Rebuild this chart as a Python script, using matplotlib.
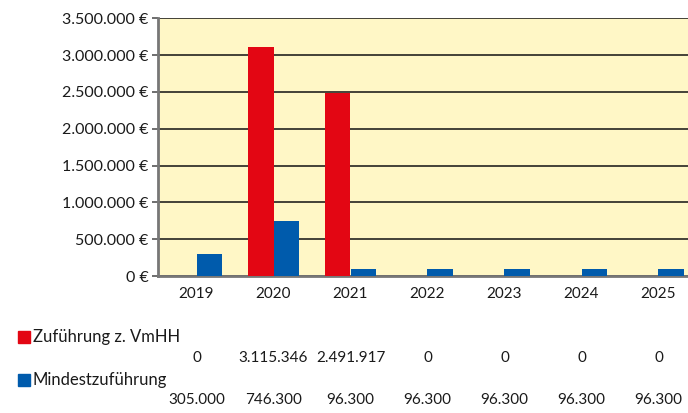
import matplotlib
matplotlib.use("Agg")
import matplotlib.pyplot as plt
from matplotlib.patches import Rectangle

years = ["2019", "2020", "2021", "2022", "2023", "2024", "2025"]
zufuehrung = [0, 3115346, 2491917, 0, 0, 0, 0]
mindest = [305000, 746300, 96300, 96300, 96300, 96300, 96300]
series_names = ["Zuführung z. VmHH", "Mindestzuführung"]
yticks = [0, 500000, 1000000, 1500000, 2000000, 2500000, 3000000, 3500000]

RED = "#E30613"
BLUE = "#005BAC"
BG = "#FFF7C6"
TXT = "#1a1a1a"

plt.rcParams['font.family'] = ['Lato', 'DejaVu Sans']

W, H = 688, 413
fig = plt.figure(figsize=(W / 100, H / 100), dpi=100)

def fx(px):
    return px / W

def fy(py):
    return 1 - py / H

left, right, top, bottom = 158, 697, 18.3, 276
ax = fig.add_axes([fx(left), fy(bottom), fx(right - left), (bottom - top) / H])
ax.set_facecolor(BG)

x = list(range(len(years)))
bw = 0.325
ax.bar([i - bw / 2 for i in x], zufuehrung, width=bw, color=RED, zorder=3)
ax.bar([i + bw / 2 for i in x], mindest, width=bw, color=BLUE, zorder=3)

ax.set_xlim(-0.5, len(years) - 0.5)
ax.set_ylim(0, 3500000)
ax.set_yticks(yticks)
ax.set_yticklabels([f"{v:,.0f}".replace(",", ".") + " €" for v in yticks], fontsize=11.5, color=TXT)
ax.set_xticks(x)
ax.set_xticklabels(years, fontsize=11, color=TXT)
ax.tick_params(axis='x', length=0, pad=8)
ax.tick_params(axis='y', length=4, width=1.2, color="#555555", pad=3)
ax.grid(axis='y', color="#111111", linewidth=1.1, zorder=1)
for s in ["top", "right"]:
    ax.spines[s].set_visible(False)
ax.spines["left"].set_color("#777777")
ax.spines["left"].set_linewidth(2)
ax.spines["bottom"].set_color("#777777")
ax.spines["bottom"].set_linewidth(2)

# table below
rows_y = [(337, 358), (380, 400)]
colors = [RED, BLUE]
data = [zufuehrung, mindest]
for (ly, vy), name, col, vals in zip(rows_y, series_names, colors, data):
    fig.patches.append(Rectangle((fx(18), fy(ly + 6)), fx(12), 12 / H, color=col,
                                 transform=fig.transFigure, figure=fig))
    fig.text(fx(33), fy(ly), name, fontsize=12, va='center', ha='left', color=TXT)
    for i, v in enumerate(vals):
        xd = ax.transData.transform((i, 0))[0]
        fig.text(xd / fig.dpi / fig.get_figwidth(), fy(vy),
                 f"{v:,.0f}".replace(",", "."), fontsize=11, va='center', ha='center', color=TXT)

fig.savefig("out.png", dpi=100)
